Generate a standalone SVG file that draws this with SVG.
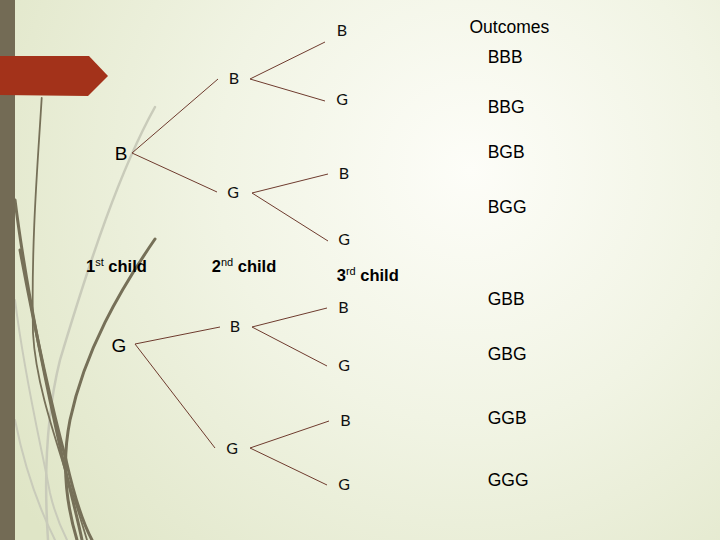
<svg xmlns="http://www.w3.org/2000/svg" width="720" height="540" viewBox="0 0 720 540">
<defs>
<radialGradient id="bg" cx="470" cy="170" r="560" gradientUnits="userSpaceOnUse">
<stop offset="0" stop-color="#fdfdf8"/>
<stop offset="0.45" stop-color="#f1f4e4"/>
<stop offset="1" stop-color="#dfe5c6"/>
</radialGradient>
<style>
.edge{stroke:#6e3b2e;stroke-width:1;fill:none}
.deco{fill:none;stroke:#767058;stroke-linecap:round}
.light{fill:none;stroke:#c9cbba;stroke-linecap:round}
.root{font-family:"Liberation Sans",Arial,sans-serif;font-size:19px;fill:#000;text-anchor:middle}
.inner{font-family:Lato,"Liberation Sans",sans-serif;font-size:16px;fill:#111;text-anchor:middle}
.out{font-family:"Liberation Sans",Arial,sans-serif;font-size:17.5px;fill:#000}
.lbl{font-family:"Liberation Sans",Arial,sans-serif;font-size:16.5px;font-weight:bold;fill:#000}
.sup{font-size:11px;font-weight:normal}
</style>
</defs>
<rect width="720" height="540" fill="url(#bg)"/>
<!-- decorative curves -->
<g id="decor">
<path class="light" stroke-width="2.5" d="M155,107 C120,170 90,260 60,360 C45,420 44,480 48,540"/>
<path class="light" stroke-width="2" d="M15,300 C25,380 40,440 50,493 C55,515 62,530 67,540"/>
<path class="light" stroke-width="2" d="M15,420 C25,470 40,510 55,540"/>
<path class="deco" stroke-width="1.8" d="M41.7,98 C38,160 31,240 33,333 C36,390 60,450 87,540"/>
<path class="deco" stroke-width="3" d="M15,200 C25,280 45,380 63,460 C70,490 78,520 82,540"/>
<path class="deco" stroke-width="3" d="M20,250 C35,330 50,400 66,460 C74,495 84,525 92,540"/>
<path class="deco" stroke-width="3" d="M155,239 C120,290 85,350 70,420 C62,460 65,500 77,540"/>
<rect x="0" y="0" width="15" height="540" fill="#736b55"/>
<polygon points="0,56 89,56 108,76 88,96 0,95" fill="#a3321a"/>
</g>
<!-- connectors -->
<g id="connectors">
<line class="edge" x1="132" y1="153" x2="218" y2="79"/>
<line class="edge" x1="132" y1="153" x2="217" y2="192"/>
<line class="edge" x1="250" y1="79" x2="325" y2="42"/>
<line class="edge" x1="250" y1="79" x2="325" y2="101"/>
<line class="edge" x1="252" y1="193" x2="328" y2="174"/>
<line class="edge" x1="252" y1="193" x2="328" y2="241"/>
<line class="edge" x1="135" y1="344" x2="220" y2="327"/>
<line class="edge" x1="135" y1="344" x2="215" y2="448"/>
<line class="edge" x1="252" y1="327" x2="327" y2="308"/>
<line class="edge" x1="252" y1="327" x2="327" y2="366"/>
<line class="edge" x1="250" y1="448" x2="329" y2="421"/>
<line class="edge" x1="250" y1="448" x2="327" y2="485"/>
</g>
<!-- nodes -->
<g id="n-root-B"><text class="root" x="121" y="160">B</text></g>
<g id="n-root-G"><text class="root" x="119" y="351.5">G</text></g>
<g id="n-B-B"><text class="inner" x="234" y="84">B</text></g>
<g id="n-B-G"><text class="inner" x="233" y="197.5">G</text></g>
<g id="n-BB-B"><text class="inner" x="342" y="35.5">B</text></g>
<g id="n-BB-G"><text class="inner" x="342" y="105">G</text></g>
<g id="n-BG-B"><text class="inner" x="344" y="178.5">B</text></g>
<g id="n-BG-G"><text class="inner" x="344" y="244.5">G</text></g>
<g id="n-G-B"><text class="inner" x="235" y="331.5">B</text></g>
<g id="n-G-G"><text class="inner" x="232" y="453.5">G</text></g>
<g id="n-GB-B"><text class="inner" x="343.5" y="312.5">B</text></g>
<g id="n-GB-G"><text class="inner" x="344" y="370.5">G</text></g>
<g id="n-GG-B"><text class="inner" x="345.5" y="426">B</text></g>
<g id="n-GG-G"><text class="inner" x="344" y="489.5">G</text></g>
<!-- level labels -->
<g id="labels">
<text class="lbl" x="86" y="272.3">1<tspan class="sup" dy="-6">st</tspan><tspan dy="6"> child</tspan></text>
<text class="lbl" x="211.7" y="272.3">2<tspan class="sup" dy="-6">nd</tspan><tspan dy="6"> child</tspan></text>
<text class="lbl" x="336.7" y="280.7">3<tspan class="sup" dy="-6">rd</tspan><tspan dy="6"> child</tspan></text>
</g>
<!-- outcomes -->
<g id="outcomes">
<text class="out" x="469.5" y="33.3">Outcomes</text>
<text class="out" x="487.7" y="62.7">BBB</text>
<text class="out" x="487.7" y="112.7">BBG</text>
<text class="out" x="487.7" y="157.7">BGB</text>
<text class="out" x="487.7" y="213.3">BGG</text>
<text class="out" x="487.7" y="305">GBB</text>
<text class="out" x="487.7" y="360">GBG</text>
<text class="out" x="487.7" y="424.3">GGB</text>
<text class="out" x="487.7" y="486">GGG</text>
</g>
</svg>
